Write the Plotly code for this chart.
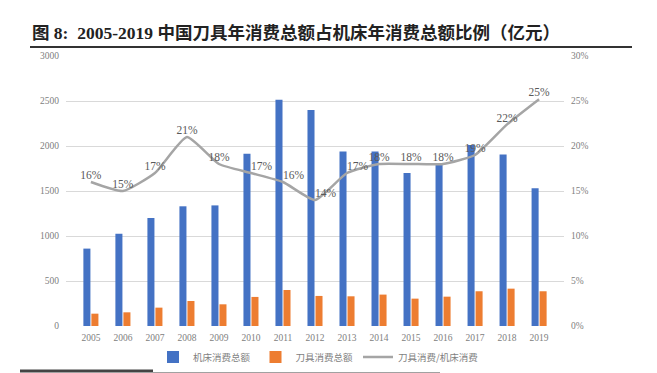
import plotly.graph_objects as go

years = ["2005", "2006", "2007", "2008", "2009", "2010", "2011", "2012",
         "2013", "2014", "2015", "2016", "2017", "2018", "2019"]
machine_tool = [860, 1025, 1200, 1330, 1340, 1915, 2515, 2400,
                1940, 1940, 1700, 1790, 2010, 1905, 1530]
cutting_tool = [137, 152, 204, 278, 241, 323, 400, 334,
                330, 349, 304, 326, 386, 415, 386]
ratio = [0.16, 0.15, 0.17, 0.21, 0.18, 0.17, 0.16, 0.14,
         0.17, 0.18, 0.18, 0.18, 0.19, 0.224, 0.252]
label_pos = ["top center"] * 5 + ["top right"] * 4 + ["top center"] * 6

names = ["机床消费总额", "刀具消费总额", "刀具消费/机床消费"]
title = "图 8:  2005-2019 中国刀具年消费总额占机床年消费总额比例（亿元）"

BLUE = "#4472C4"
ORANGE = "#ED7D31"
GRAY = "#A5A5A5"
TICK = "#808080"
serif = "Liberation Serif, Times New Roman, serif"
cjk = "Noto Sans CJK SC, sans-serif"

# page offset from default body margin
OFF = 8
W, H = 657 - OFF, 373 - OFF
# plot area in page pixels
L, R, T, B = 66, 564, 56, 326
l, r, t, b = L - OFF, R - OFF, T - OFF, B - OFF

fig = go.Figure()
fig.add_trace(go.Bar(x=years, y=machine_tool, name=names[0], marker_color=BLUE,
                     marker_line_width=0))
fig.add_trace(go.Bar(x=years, y=cutting_tool, name=names[1], marker_color=ORANGE,
                     marker_line_width=0))
fig.add_trace(go.Scatter(x=years, y=ratio, name=names[2], yaxis="y2",
                         mode="lines+text", line=dict(color=GRAY, width=2.5,
                                                      shape="spline", smoothing=0.5),
                         text=[f"{round(v*100)}%" for v in ratio],
                         textposition=label_pos, cliponaxis=False,
                         textfont=dict(family=serif, size=11.5, color="#595959")))

fig.update_layout(
    width=W, height=H,
    margin=dict(l=l, r=W - r, t=t, b=H - b, autoexpand=False),
    paper_bgcolor="white", plot_bgcolor="white",
    barmode="group", bargap=0.5, bargroupgap=0.12,
    showlegend=True,
    legend=dict(orientation="h", xref="container", yref="container",
                x=(318 - OFF) / W, y=1 - (357 - OFF) / H, xanchor="center", yanchor="middle",
                font=dict(family=cjk, size=9.5, color="#7f7f7f"),
                itemwidth=30, traceorder="normal"),
    xaxis=dict(type="category", showgrid=False, showline=False, ticks="",
               tickfont=dict(family=serif, size=9.5, color=TICK), ticklabelstandoff=4),
    yaxis=dict(range=[0, 3000], dtick=500, showgrid=True, gridcolor="#D9D9D9",
               gridwidth=1, zeroline=False, showline=False, ticks="",
               tickfont=dict(family=serif, size=9.5, color=TICK), ticklabelstandoff=6),
    yaxis2=dict(range=[0, 0.3], dtick=0.05, tickformat=".0%", overlaying="y",
                side="right", showgrid=False, zeroline=False, showline=False, ticks="",
                tickfont=dict(family=serif, size=9.5, color=TICK), ticklabelstandoff=6),
    title=dict(text="<b>" + title + "</b>", xref="container", yref="container",
               x=(32 - OFF) / W, xanchor="left", y=1 - (33 - OFF) / H, yanchor="middle",
               font=dict(family="Liberation Serif, Noto Sans CJK SC",
                         size=17.5, color="#222222")),
)

def px_x(p):
    return (p - L) / (R - L)

def px_y(p):
    return (B - p) / (B - T)

fig.add_shape(type="line", xref="paper", yref="paper",
              x0=px_x(30), x1=px_x(632), y0=px_y(47), y1=px_y(47),
              line=dict(color="#333333", width=2))
fig.add_shape(type="line", xref="paper", yref="paper",
              x0=px_x(20), x1=px_x(440), y0=px_y(371), y1=px_y(371),
              line=dict(color="#444444", width=3))

fig.write_html("out.html")
